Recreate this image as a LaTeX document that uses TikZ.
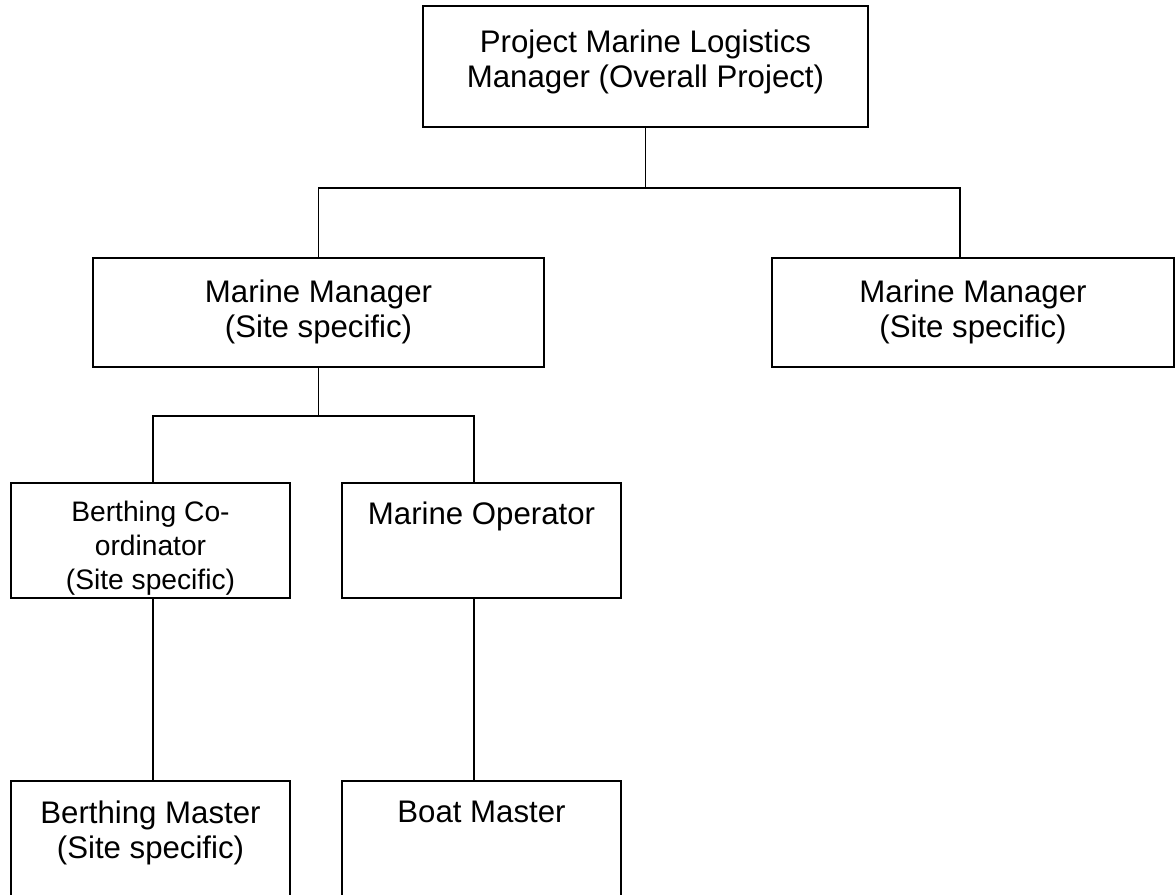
\documentclass[tikz,border=0pt]{standalone}
\usepackage{fontspec}
\setmainfont{Liberation Sans}
\usetikzlibrary{positioning, calc}
\tikzset{
	box/.style={draw, inner sep=0pt},
	txt/.style={inner sep=0pt, align=center, font=\fontsize{15.6}{17.5}\selectfont},
	txts/.style={inner sep=0pt, align=center, font=\fontsize{14.1}{17}\selectfont},
}

\begin{document}
\begin{tikzpicture}[x=0.5pt, y=-0.5pt, line width=0.9pt]
		\useasboundingbox (0,0) rectangle (1175,895);
		\clip (0,0) rectangle (1175,895);
		
		% top level
		\node(pm) [box, minimum width=222.5pt, minimum height=60.5pt] at (645.5,66.5) {};
		\node(pmt) [txt, below=12pt of pm.north] {Project Marine Logistics\\Manager (Overall Project)};
		
		% site managers
		\node(mm1) [box, minimum width=225.5pt, minimum height=54.5pt] at (318.5,312.5) {};
		\node(mm1t) [txt, below=11pt of mm1.north] {Marine Manager\\(Site specific)};
		\node(mm2) [box, minimum width=201pt, minimum height=54.5pt] at (973,312.5) {};
		\node(mm2t) [txt, below=11pt of mm2.north] {Marine Manager\\(Site specific)};
		
		% under the left manager
		\node(bc) [box, minimum width=139.5pt, minimum height=57.5pt] at (150.5,540.5) {};
		\node(bct) [txts, below=9pt of bc.north] {Berthing Co-\\ordinator\\(Site specific)};
		\node(mo) [box, minimum width=139.5pt, minimum height=57.5pt] at (481.5,540.5) {};
		\node(mot) [txt, below=9.5pt of mo.north] {Marine Operator};
		
		\node(bm) [box, minimum width=139.5pt, minimum height=64pt] at (150.5,845) {};
		\node(bmt) [txt, below=10pt of bm.north] {Berthing Master\\(Site specific)};
		\node(bt) [box, minimum width=139.5pt, minimum height=64pt] at (481.5,845) {};
		\node(btt) [txt, below=10pt of bt.north] {Boat Master};
		
		\coordinate (j1) at (645.5,188);
		\coordinate (j2) at (318.5,416);
		
		\draw (pm.south) -- (j1);
		\draw (mm1.north) |- (j1) -| ([xshift=-6.5pt]mm2.north);
		\draw (mm1.south) -- (j2);
		\draw ([xshift=1.25pt]bc.north) |- (j2) -| ([xshift=-3.75pt]mo.north);
		\draw ([xshift=1.25pt]bc.south) -- ([xshift=1.25pt]bm.north);
		\draw ([xshift=-3.75pt]mo.south) -- ([xshift=-3.75pt]bt.north);
		
\end{tikzpicture}
\end{document}
